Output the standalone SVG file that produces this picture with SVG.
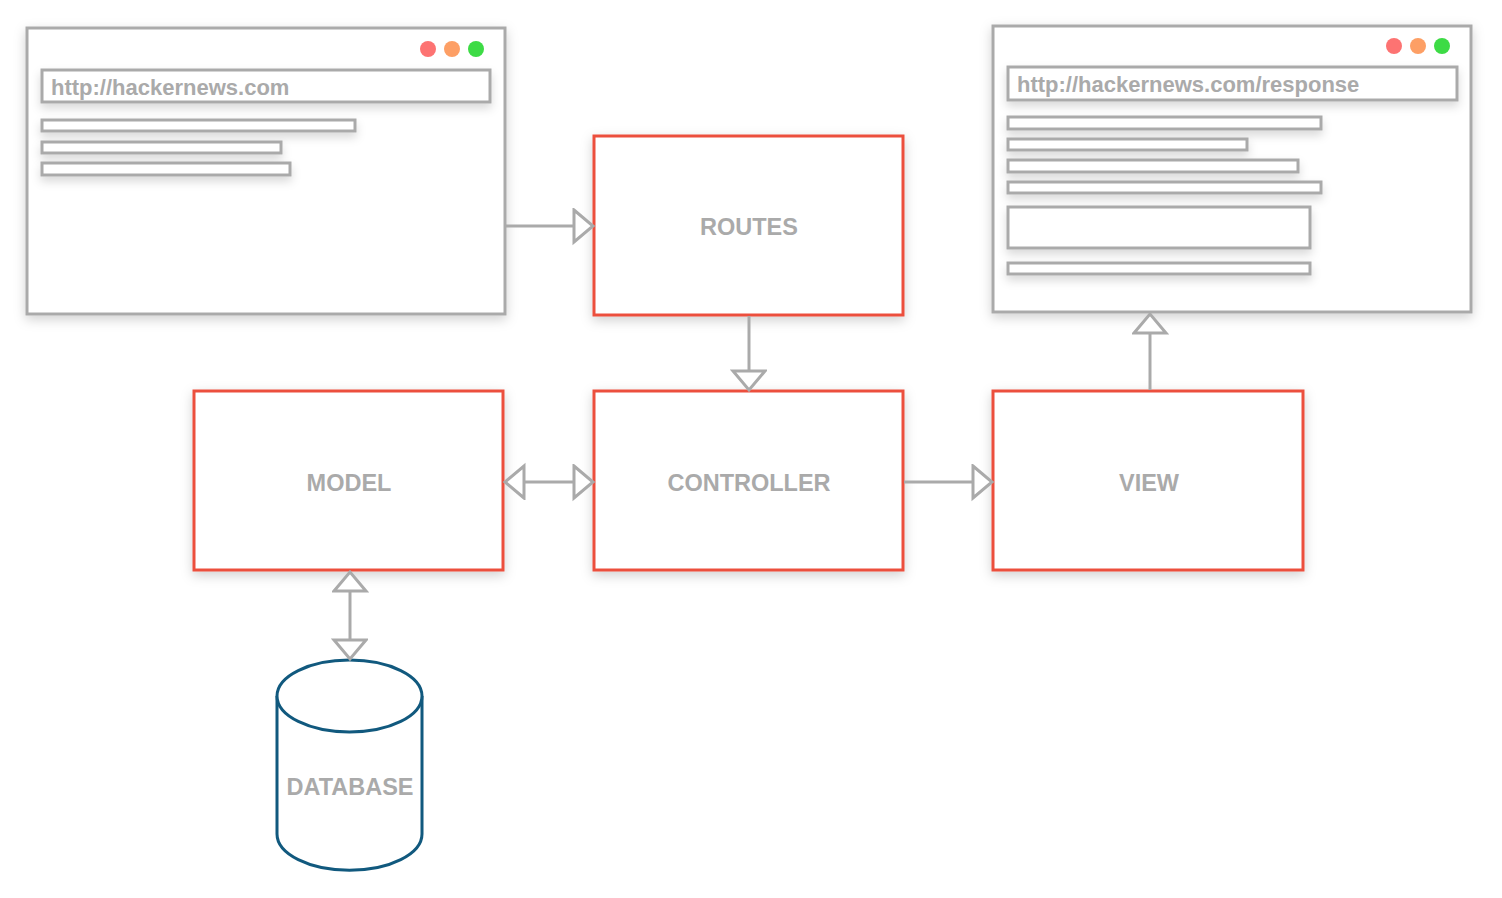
<svg xmlns="http://www.w3.org/2000/svg" width="1502" height="898" viewBox="0 0 1502 898">
<style>
.frame{fill:#fff;stroke:#aaaaaa;stroke-width:3}
.bar{fill:#fff;stroke:#aaaaaa;stroke-width:3}
.box{fill:#fff;stroke:#ec4f3e;stroke-width:3}
.url{font-family:"Liberation Sans",Arial,sans-serif;font-weight:bold;font-size:22px;fill:#aaaaaa}
.lbl{font-family:"Liberation Sans",Arial,sans-serif;font-weight:bold;font-size:23.5px;fill:#aaaaaa;text-anchor:middle}
.conn{fill:none;stroke:#aaaaaa;stroke-width:3}
.db{fill:#fff;stroke:#11597e;stroke-width:3}
</style>
<defs>
<filter id="sh" x="-20%" y="-20%" width="140%" height="140%">
<feDropShadow dx="0" dy="4" stdDeviation="6" flood-color="#000" flood-opacity="0.18"/>
</filter>
<filter id="shs" x="-10%" y="-50%" width="120%" height="300%">
<feDropShadow dx="0" dy="5" stdDeviation="5" flood-color="#000" flood-opacity="0.15"/>
</filter>
<marker id="tri" markerUnits="userSpaceOnUse" markerWidth="24" markerHeight="38" viewBox="-2 -2 24 38" refX="19" refY="16" orient="auto-start-reverse">
<path d="M0,0 L19,16 L0,32 Z" fill="#fff" stroke="#aaaaaa" stroke-width="3" stroke-linejoin="miter"/>
</marker>
</defs>

<g id="browser-request">
<rect class="frame" x="27" y="28" width="478" height="286" filter="url(#sh)"/>
<circle cx="428" cy="49" r="8" fill="#fd7372"/>
<circle cx="452" cy="49" r="8" fill="#fd9f65"/>
<circle cx="476" cy="49" r="8" fill="#3ddb45"/>
<rect class="bar" x="42" y="70" width="448" height="32" filter="url(#shs)"/>
<text class="url" x="51" y="95">http://hackernews.com</text>
<rect class="bar" x="42" y="120" width="313" height="11" filter="url(#shs)"/>
<rect class="bar" x="42" y="142" width="239" height="11" filter="url(#shs)"/>
<rect class="bar" x="42" y="163" width="248" height="12" filter="url(#shs)"/>
</g>

<g id="browser-response">
<rect class="frame" x="993" y="26" width="478" height="286" filter="url(#sh)"/>
<circle cx="1394" cy="46" r="8" fill="#fd7372"/>
<circle cx="1418" cy="46" r="8" fill="#fd9f65"/>
<circle cx="1442" cy="46" r="8" fill="#3ddb45"/>
<rect class="bar" x="1008" y="67" width="449" height="33" filter="url(#shs)"/>
<text class="url" x="1017" y="92">http://hackernews.com/response</text>
<rect class="bar" x="1008" y="117" width="313" height="12" filter="url(#shs)"/>
<rect class="bar" x="1008" y="139" width="239" height="11" filter="url(#shs)"/>
<rect class="bar" x="1008" y="160" width="290" height="12" filter="url(#shs)"/>
<rect class="bar" x="1008" y="182" width="313" height="11" filter="url(#shs)"/>
<rect class="bar" x="1008" y="207" width="302" height="41" filter="url(#shs)"/>
<rect class="bar" x="1008" y="263" width="302" height="11" filter="url(#shs)"/>
</g>

<g id="routes">
<rect class="box" x="594" y="136" width="309" height="179" filter="url(#sh)"/>
<text class="lbl" x="749" y="235">ROUTES</text>
</g>

<g id="model">
<rect class="box" x="194" y="391" width="309" height="179" filter="url(#sh)"/>
<text class="lbl" x="349" y="491">MODEL</text>
</g>

<g id="controller">
<rect class="box" x="594" y="391" width="309" height="179" filter="url(#sh)"/>
<text class="lbl" x="749" y="491">CONTROLLER</text>
</g>

<g id="view">
<rect class="box" x="993" y="391" width="310" height="179" filter="url(#sh)"/>
<text class="lbl" x="1149" y="491">VIEW</text>
</g>

<g id="database">
<path class="db" d="M277,696 L277,834 A72,36 0 0 0 422,834 L422,696"/>
<ellipse class="db" cx="349.5" cy="696" rx="72.5" ry="36"/>
<text class="lbl" x="350" y="795">DATABASE</text>
</g>

<g id="connectors">
<line class="conn" x1="506" y1="226" x2="593" y2="226" marker-end="url(#tri)"/>
<line class="conn" x1="749" y1="316" x2="749" y2="390" marker-end="url(#tri)"/>
<line class="conn" x1="505" y1="482" x2="593" y2="482" marker-start="url(#tri)" marker-end="url(#tri)"/>
<line class="conn" x1="904" y1="482" x2="992" y2="482" marker-end="url(#tri)"/>
<line class="conn" x1="1150" y1="390" x2="1150" y2="314" marker-end="url(#tri)"/>
<line class="conn" x1="350" y1="572" x2="350" y2="659" marker-start="url(#tri)" marker-end="url(#tri)"/>
</g>
</svg>
